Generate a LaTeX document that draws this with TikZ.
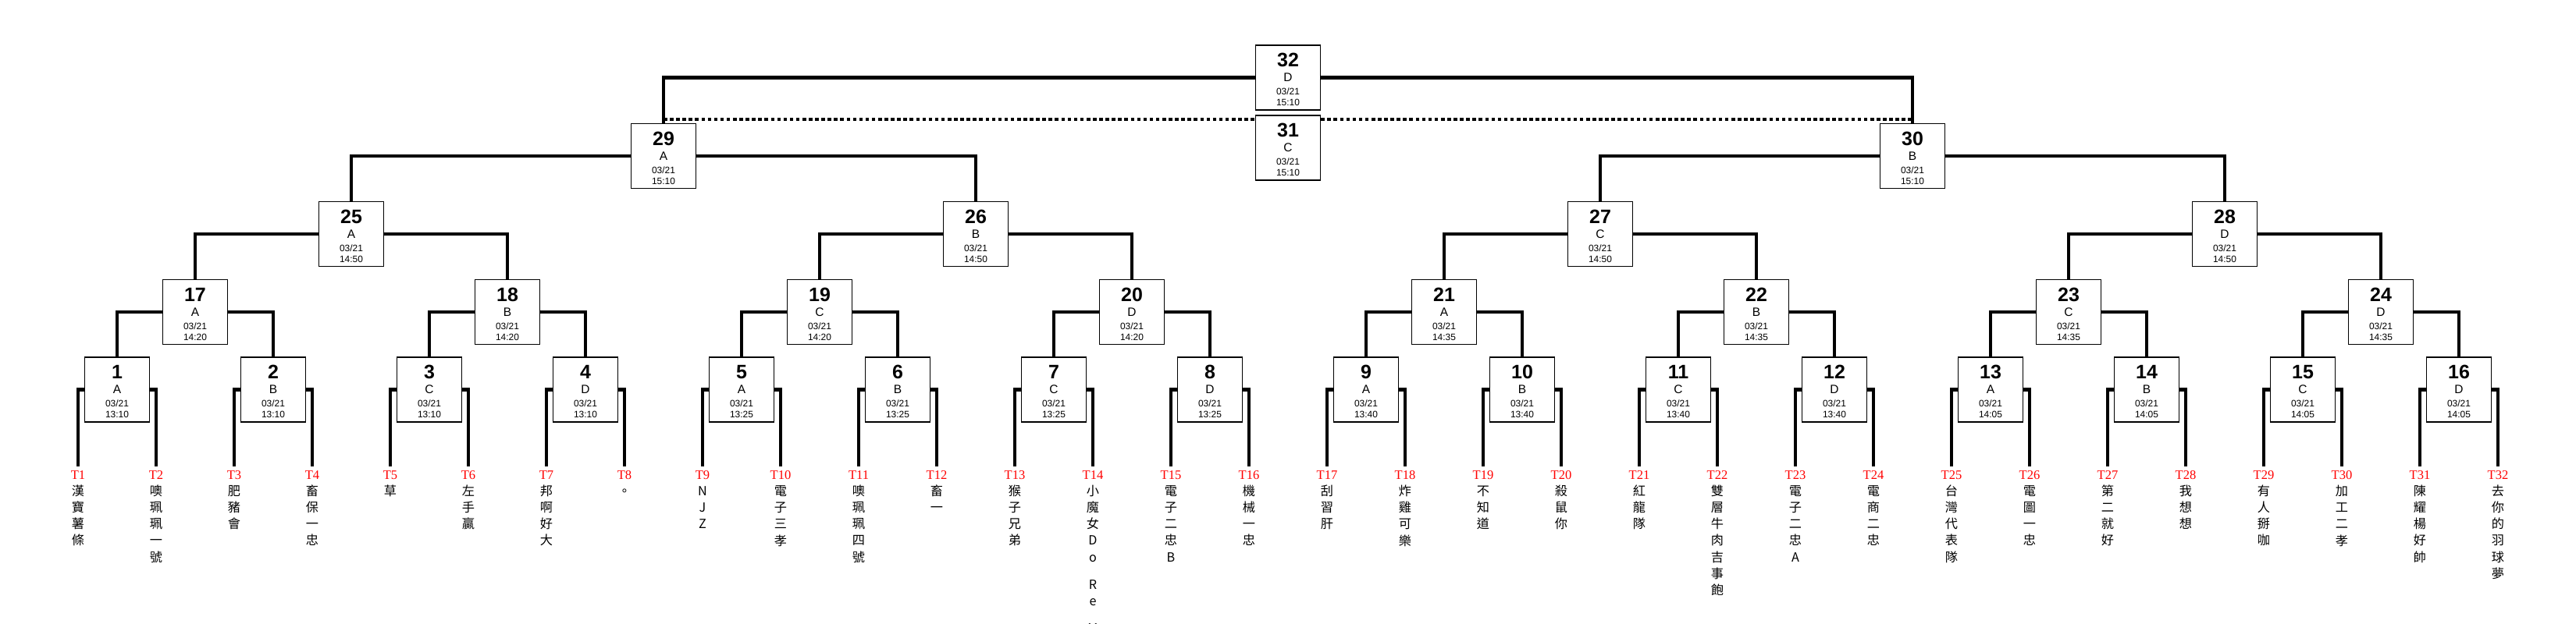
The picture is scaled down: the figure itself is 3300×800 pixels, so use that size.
\documentclass[tikz,border=0pt]{standalone}
\usepackage{fontspec}
\setmainfont{Liberation Sans}
\newfontfamily\tfont{Liberation Serif}
\newfontfamily\cjk{Noto Sans CJK TC}
\usetikzlibrary{calc}

\newcommand\mtext[3]{%
    {\fontsize{7.1}{7.1}\selectfont\bfseries\rule{0pt}{6.5pt}#1}\\[1.4pt]%
    {\fontsize{4.4}{4.4}\selectfont #2}\\[0.8pt]%
    03/21\\#3}

\begin{document}
\begin{tikzpicture}[
    x=0.01cm, y=0.01cm,
    match/.style={
        draw, line width=0.4pt,
        minimum width=0.83cm,
        minimum height=0.83cm,
        inner sep=0pt, align=center,
        font=\fontsize{3.4}{4}\selectfont
    },
    team/.style={
        anchor=north, align=center,
        inner xsep=0pt, inner ysep=1.4pt,
        font=\cjk\fontsize{4.6}{6}\selectfont
    },
    link/.style={line width=1.15pt},
    thirdlink/.style={link, dash pattern=on 1.3pt off 1pt}
]
\useasboundingbox (0,0) rectangle (3300,-800);
\clip (0,0) rectangle (3300,-800);

\foreach \n/\g/\t in {1/A/13:10, 2/B/13:10, 3/C/13:10, 4/D/13:10,
    5/A/13:25, 6/B/13:25, 7/C/13:25, 8/D/13:25,
    9/A/13:40, 10/B/13:40, 11/C/13:40, 12/D/13:40,
    13/A/14:05, 14/B/14:05, 15/C/14:05, 16/D/14:05}
    \node[match] (m\n) at ({200*\n-50},-499.5) {\mtext{\n}{\g}{\t}};
\foreach \n/\g/\t in {17/A/14:20, 18/B/14:20, 19/C/14:20, 20/D/14:20,
    21/A/14:35, 22/B/14:35, 23/C/14:35, 24/D/14:35}
    \node[match] (m\n) at ({400*(\n-16)-150},-400) {\mtext{\n}{\g}{\t}};
\foreach \n/\g/\t in {25/A/14:50, 26/B/14:50, 27/C/14:50, 28/D/14:50}
    \node[match] (m\n) at ({800*(\n-24)-350},-300) {\mtext{\n}{\g}{\t}};
\node[match] (m29) at (850,-200) {\mtext{29}{A}{15:10}};
\node[match] (m30) at (2450,-200) {\mtext{30}{B}{15:10}};
\node[match] (m32) at (1650,-99.5) {\mtext{32}{D}{15:10}};
\node[match] (m31) at (1650,-189.5) {\mtext{31}{C}{15:10}};

\foreach \k/\nm in {1/漢\\寶\\薯\\條, 2/噢\\珮\\珮\\一\\號, 3/肥\\豬\\會, 4/畜\\保\\一\\忠,
    5/草, 6/左\\手\\贏, 7/邦\\啊\\好\\大, 8/。,
    9/N\\J\\Z, 10/電\\子\\三\\孝, 11/噢\\珮\\珮\\四\\號, 12/畜\\一,
    13/猴\\子\\兄\\弟, 14/小\\魔\\女\\D\\o\\[4pt]R\\e\\[4pt]M, 15/電\\子\\二\\忠\\B, 16/機\\械\\一\\忠,
    17/刮\\習\\肝, 18/炸\\雞\\可\\樂, 19/不\\知\\道, 20/殺\\鼠\\你,
    21/紅\\龍\\隊, 22/雙\\層\\牛\\肉\\吉\\事\\飽, 23/電\\子\\二\\忠\\A, 24/電\\商\\二\\忠,
    25/台\\灣\\代\\表\\隊, 26/電\\圖\\一\\忠, 27/第\\二\\就\\好, 28/我\\想\\想,
    29/有\\人\\掰\\咖, 30/加\\工\\二\\孝, 31/陳\\耀\\楊\\好\\帥, 32/去\\你\\的\\羽\\球\\夢}
    \node[team] (t\k) at (100*\k,-598) {\textcolor{red}{\tfont\fontsize{4.7}{6}\selectfont T\k}\\\nm};

\foreach \n in {1,...,16}{
    \pgfmathtruncatemacro\a{2*\n-1}
    \pgfmathtruncatemacro\b{2*\n}
    \draw[link] (m\n.west) -| (t\a.north);
    \draw[link] (m\n.east) -| (t\b.north);
}
\foreach \n in {17,...,30}{
    \pgfmathtruncatemacro\a{2*\n-33}
    \pgfmathtruncatemacro\b{2*\n-32}
    \draw[link] (m\n.west) -| (m\a.north);
    \draw[link] (m\n.east) -| (m\b.north);
}
\draw[link] (m32.west) -| (m29.north);
\draw[link] (m32.east) -| (m30.north);

\coordinate (s29) at ($(m29.north)+(0,5)$);
\coordinate (s30) at ($(m30.north)+(0,5)$);
\draw[thirdlink] (s29) -- (s29 -| m31.west);
\draw[thirdlink] (s30 -| m31.east) -- (s30);
\end{tikzpicture}
\end{document}
